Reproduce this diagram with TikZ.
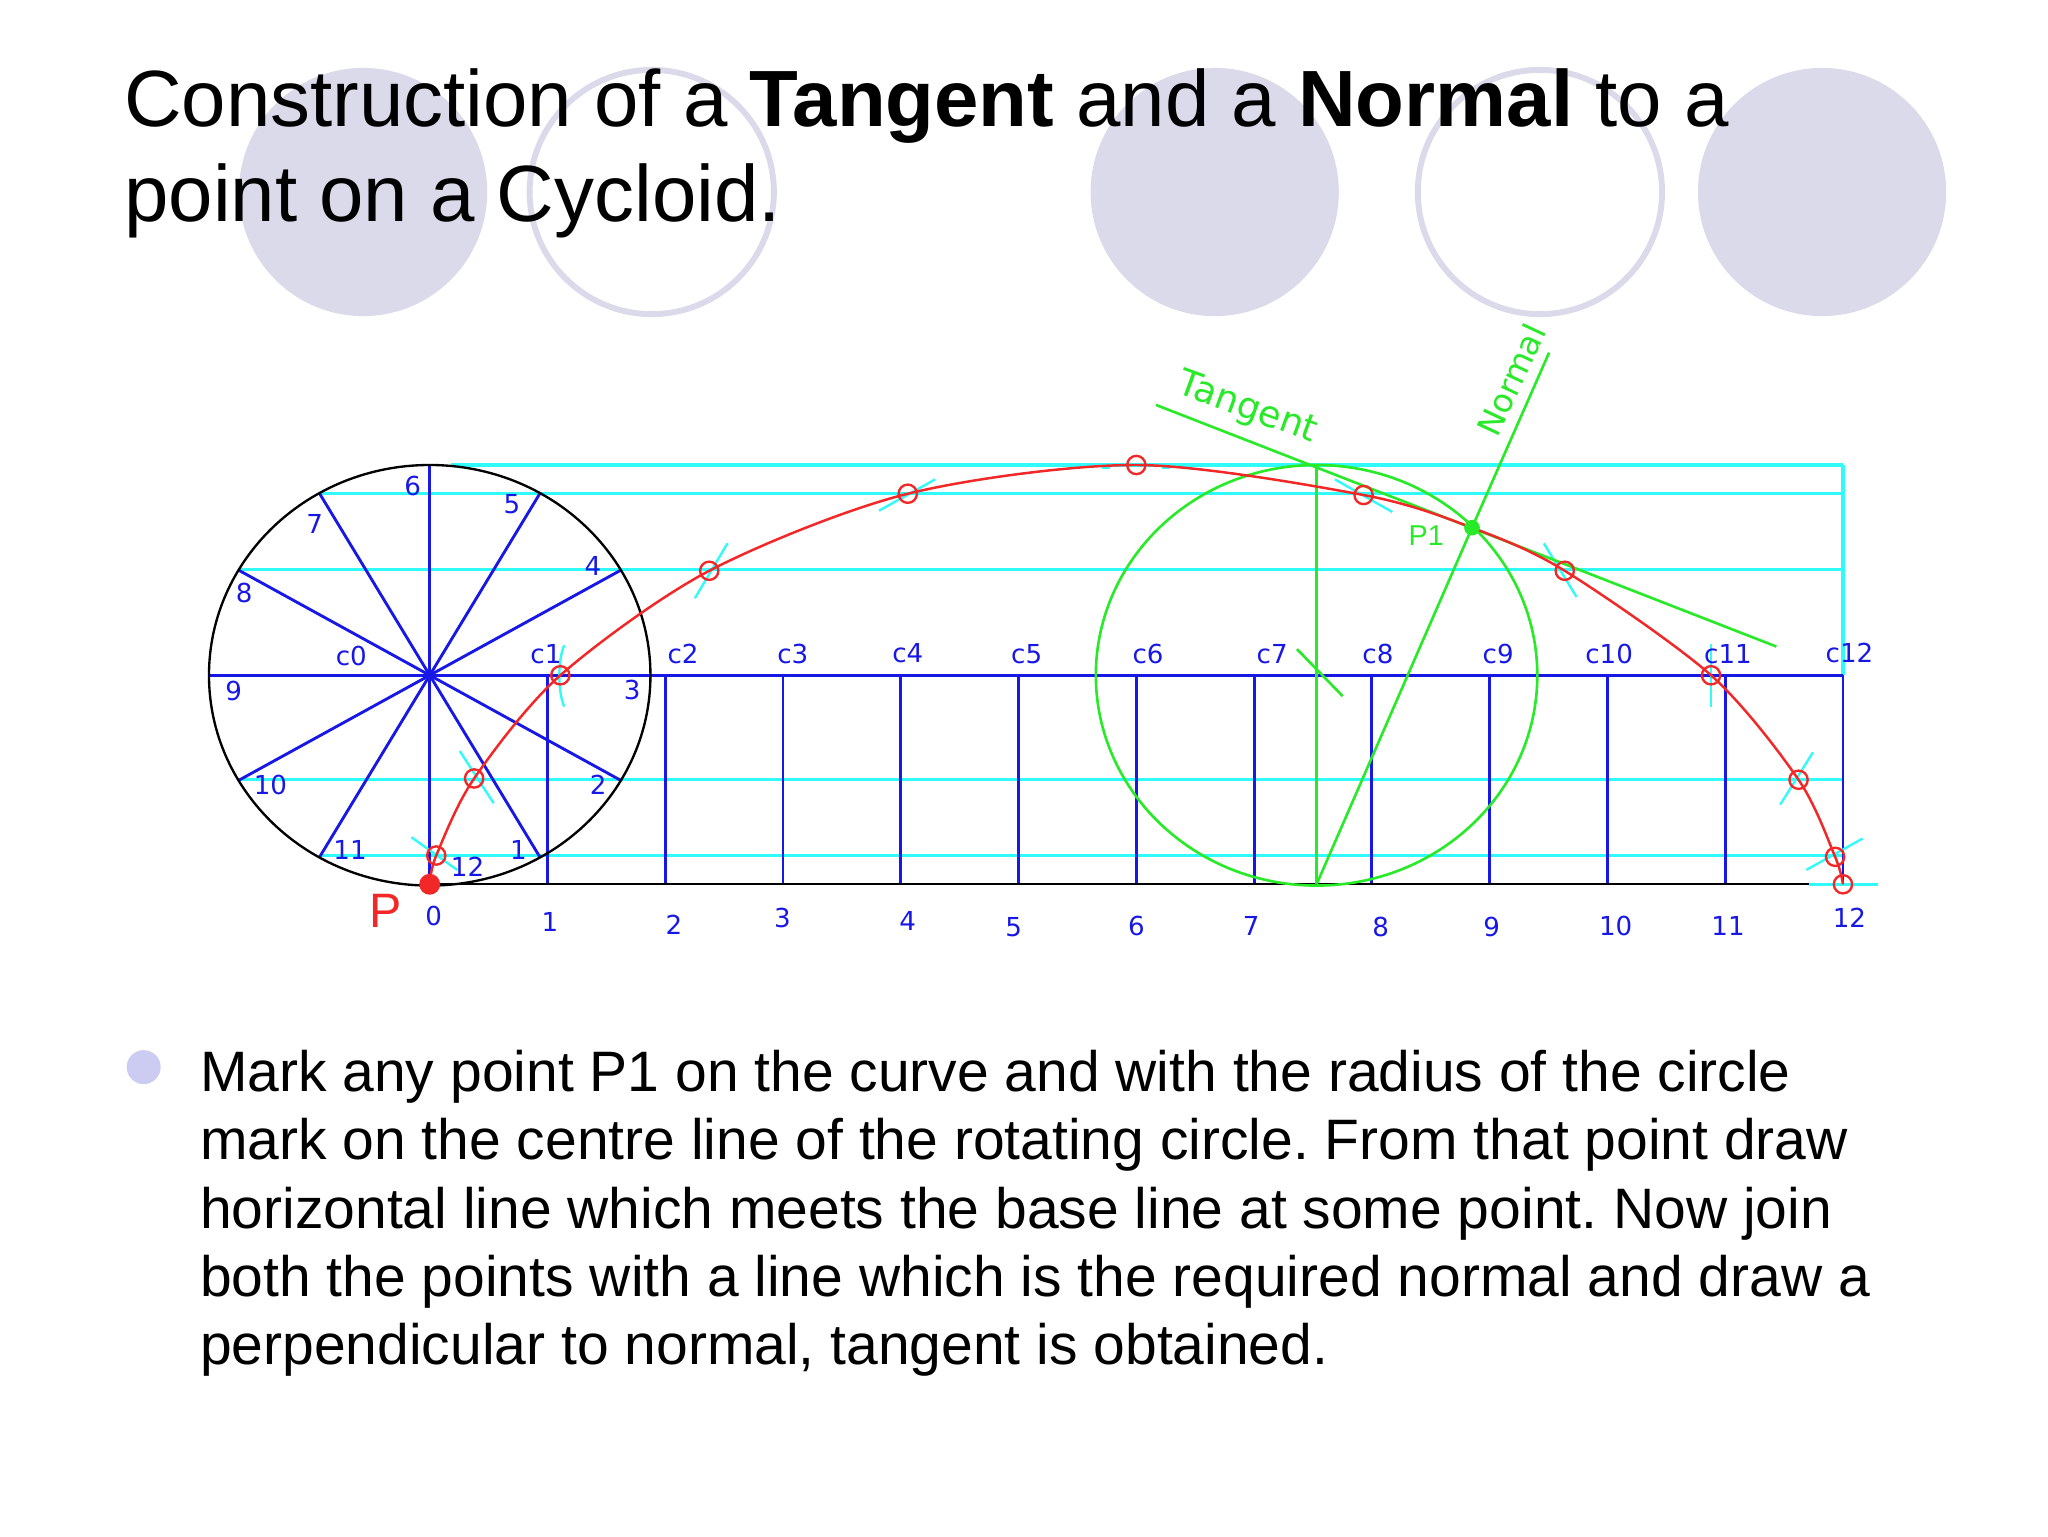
\documentclass[tikz,border=0pt]{standalone}
\usepackage{fontspec}
\setmainfont{Liberation Sans}
\newfontfamily\cadfont{DejaVu Sans}
\definecolor{disc}{HTML}{DADAEA}
\definecolor{dot}{HTML}{CCCCF2}
\definecolor{cadblue}{HTML}{1818E6}
\definecolor{cadcyan}{HTML}{30FAFA}
\definecolor{cadred}{HTML}{F22828}
\definecolor{cadgreen}{HTML}{28EA28}
\tikzset{
  cadnum/.style={text=cadblue,inner sep=0pt,font=\cadfont\fontsize{20}{20}\selectfont},
  spoke/.style={cadblue,line width=2.2pt},
  level/.style={cadcyan,line width=2.4pt},
  tick/.style={cadcyan,line width=1.8pt},
  mark ring/.style={cadred,line width=1.8pt},
  build/.style={cadgreen,line width=2pt}
}
\begin{document}
\frenchspacing
\begin{tikzpicture}[x=1pt,y=-1pt]
      \useasboundingbox (0,0) rectangle (1568,1176);
      \fill[white] (0,0) rectangle (1568,1176);
      \foreach \x in {278,930,1395}
        \fill[disc] (\x,147) circle (95);
      \foreach \x in {499,1179}
        \draw[disc,line width=4.5pt] (\x,147) circle (93.5);
      \node (title) [anchor=north west,inner sep=0pt,align=left,font=\fontsize{61.1}{73}\selectfont]
        at (95,52) {Construction of a \textbf{Tangent} and a \textbf{Normal} to a\\point on a Cycloid.};
      \foreach \y/\a in {356/345,378/245,436/182,597/182,655/245}
        \draw[level] (\a,\y) -- (1411,\y);
      \draw[level] (1411,356) -- (1411,517);
      \draw[level] (1385,677) -- (1438,677);
      \draw[spoke] (160,517) -- (1411,517);
      \foreach \a in {0,30,...,330}
        \draw[spoke] (329,517) -- ({329+169*cos(\a)},{517+161*sin(\a)});
      \foreach \k in {1,...,12}
        \draw[spoke] ({329+90.17*\k},517) -- ({329+90.17*\k},677);
      \fill[cadblue] (329,517) circle (4);
      \draw[black,line width=1.8pt] (329,517) ellipse [x radius=169,y radius=161];
      \draw[black,line width=1.8pt] (329,677) -- (1385,677);
      \foreach \x/\y/\a/\b/\c/\d in {334/655/-19/-14/16/11,363/596/-11/-21/15/19,543/437/14/-21/-11/21,
          695/378/-22/13/21/-11,1044/379/-22/-12/22/13,1198/437/-16/-21/9/20,1310/517/0/-24/0/24,
          1377/597/11/-21/-14/19,1405/656/21/-14/-22/10,847/358/-3/0/3/0,893/358/-3/0/3/0}
        \draw[tick] ({\x+\a},{\y+\b}) -- ({\x+\c},{\y+\d});
      \draw[tick] (432,494) .. controls (427,505) and (427,530) .. (432,541);
      \draw[build] (1008,517) ellipse [x radius=169,y radius=161];
      \draw[build] (1008,356) -- (1008,677);
      \draw[build] (1008,677) -- (1127,404) -- (1186,270);
      \draw[build] (885,310) -- (1360,495);
      \draw[build] (993,497) -- (1028,533);
      \draw[cadred,line width=1.9pt] plot[smooth,tension=0.5] coordinates {(329,677) (334,655) (363,596)
          (429,517) (543,437) (695,378) (870,356) (1044,379) (1127,404) (1198,437) (1310,517) (1377,597)
          (1405,656) (1411,677)};
      \foreach \x/\y in {334/655,363/596,429/517,543/437,695/378,870/356,1044/379,1198/437,1310/517,
          1377/597,1405/656,1411/677}
        \draw[mark ring] (\x,\y) circle (7);
      \fill[cadred] (329,677) circle (8);
      \fill[cadgreen] (1127,404) circle (6);
      \foreach \n/\x/\y in {1/397/651,2/458/601,3/484/528,4/454/433,5/392/386,6/316/372,7/241/401,
          8/187/454,9/179/529,10/207/601,11/268/651,12/358/664}
        \node (rim\n) [cadnum] at (\x,\y) {\n};
      \foreach \n/\x/\y in {0/332/701,1/421/706,2/516/708,3/599/703,4/695/705,5/776/710,6/870/709,
          7/958/709,8/1057/710,9/1142/710,10/1237/709,11/1323/709,12/1416/703}
        \node (base\n) [cadnum] at (\x,\y) {\n};
      \foreach \n/\x/\y in {0/269/502,1/418/501,2/523/501,3/607/501,4/695/500,5/786/501,6/879/501,
          7/974/501,8/1055/501,9/1147/501,10/1232/501,11/1323/501,12/1416/500}
        \node (centre\n) [cadnum] at (\x,\y) {c\n};
      \node (start) [text=cadred,inner sep=0pt,font=\fontsize{37}{37}\selectfont] at (295,697) {P};
      \node (pone) [text=cadgreen,inner sep=0pt,font=\fontsize{22}{22}\selectfont] at (1092,410) {P1};
      \node (tangent) [text=cadgreen,inner sep=0pt,rotate=-20,font=\cadfont\fontsize{28}{28}\selectfont] at (955,313) {Tangent};
      \node (normal) [text=cadgreen,inner sep=0pt,rotate=65,font=\cadfont\fontsize{25}{25}\selectfont] at (1157,291) {Normal};
      \fill[dot] (110,817) circle (13);
      \node (body) [anchor=north west,inner sep=0pt,align=left,font=\fontsize{43.65}{52.2}\selectfont] at (153,804)
        {Mark any point P1 on the curve and with the radius of the circle\\
         mark on the centre line of the rotating circle. From that point draw\\
         horizontal line which meets the base line at some point. Now join\\
         both the points with a line which is the required normal and draw a\\
         perpendicular to normal, tangent is obtained.};
    \end{tikzpicture}
\end{document}
